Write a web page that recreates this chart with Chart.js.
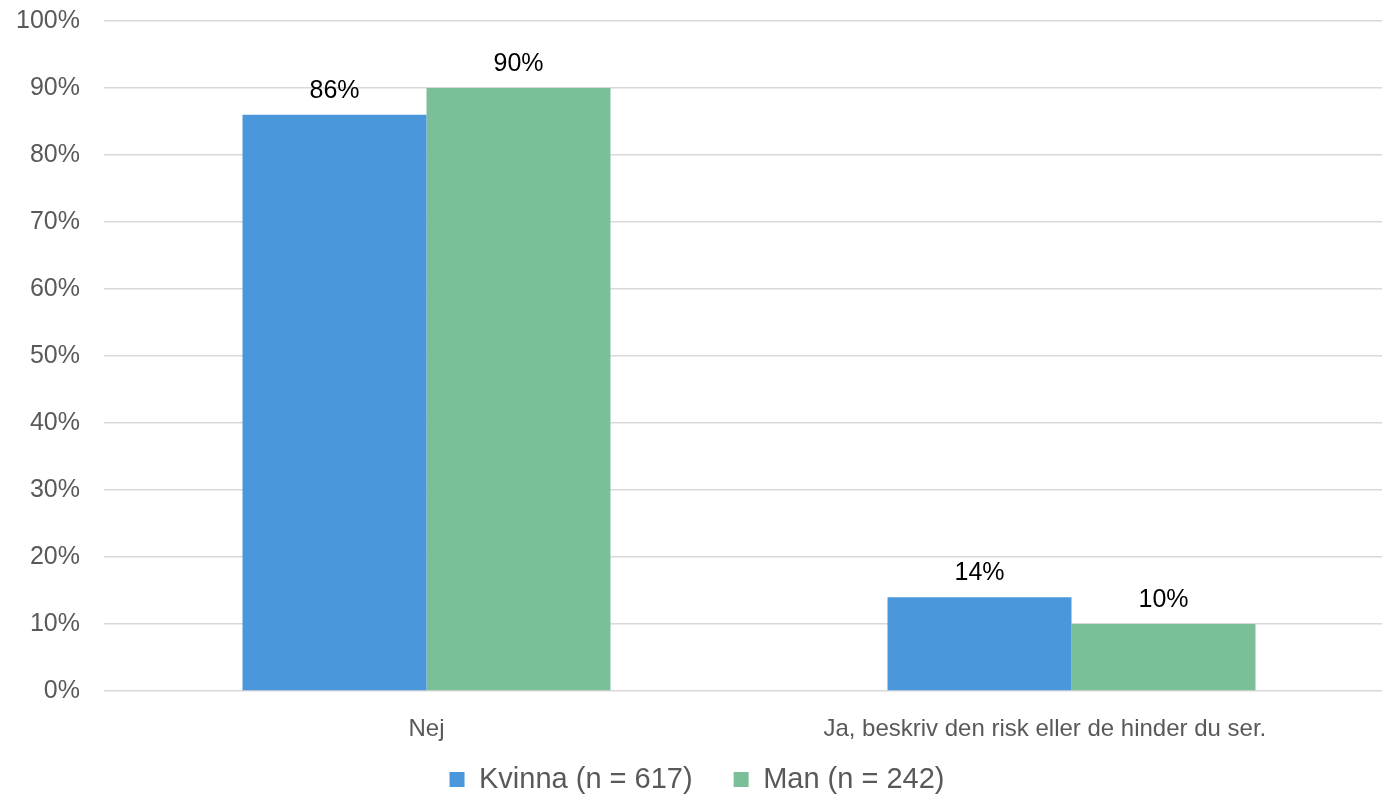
<!DOCTYPE html>
<html>
<head>
<meta charset="utf-8">
<script src="https://cdn.jsdelivr.net/npm/chart.js@4/dist/chart.umd.min.js"></script>
<style>
  html, body { margin: 0; padding: 0; background: #fff; overflow: hidden; }
  #wrap { width: 1394px; height: 797px; position: relative; }
</style>
</head>
<body>
<div id="wrap"><canvas id="c"></canvas></div>
<script>
const categories = ["Nej", "Ja, beskriv den risk eller de hinder du ser."];
const seriesNames = ["Kvinna (n = 617)", "Man (n = 242)"];
const kvinna = [86, 14];
const man = [90, 10];
const yTicks = [0, 10, 20, 30, 40, 50, 60, 70, 80, 90, 100];

const FONT = "'Liberation Sans', Arial, sans-serif";

const dataLabels = {
  id: 'dataLabels',
  beforeUpdate(chart) {
    const lg = chart.legend;
    if (lg && !lg._patched) {
      const orig = lg.fit.bind(lg);
      lg.fit = function () { orig(); this.height = 49; };
      lg._patched = true;
    }
  },
  afterLayout(chart) {
    if (chart.legend) {
      chart.legend.top = 724;
      chart.legend.bottom = 797;
    }
  },
  afterDatasetsDraw(chart) {
    const ctx = chart.ctx;
    ctx.save();
    ctx.font = "25px " + FONT;
    ctx.fillStyle = "#000";
    ctx.textAlign = "center";
    ctx.textBaseline = "alphabetic";
    chart.data.datasets.forEach((ds, i) => {
      const meta = chart.getDatasetMeta(i);
      meta.data.forEach((bar, j) => {
        ctx.fillText(ds.data[j] + "%", bar.x, bar.y - 17);
      });
    });
    ctx.restore();
  }
};

new Chart(document.getElementById('c'), {
  type: 'bar',
  data: {
    labels: categories,
    datasets: [
      { label: seriesNames[0], data: kvinna, backgroundColor: '#4A98DB', borderWidth: 0 },
      { label: seriesNames[1], data: man, backgroundColor: '#7BBF99', borderWidth: 0 }
    ]
  },
  options: {
    responsive: true,
    maintainAspectRatio: false,
    animation: false,
    events: [],
    categoryPercentage: 0.5705,
    barPercentage: 1,
    layout: { padding: { top: 21, left: 0, right: 0, bottom: 0 } },
    plugins: {
      tooltip: { enabled: false },
      legend: {
        position: 'bottom',
        labels: {
          font: { family: FONT, size: 29 },
          color: '#595959',
          boxWidth: 15,
          boxHeight: 15,
          padding: 41,
          useBorderRadius: false
        }
      }
    },
    scales: {
      x: {
        grid: { display: false },
        border: { display: false },
        ticks: {
          font: { family: FONT, size: 24 },
          color: '#595959',
          padding: 16,
          maxRotation: 0,
          callback: function (v, i) {
            const t = this.getLabelForValue(v);
            return i === categories.length - 1 ? t + '\u00A0'.repeat(8) : t;
          }
        },
        afterFit(scale) { scale.height = 57; scale.paddingLeft = 0; scale.paddingRight = 0; }
      },
      y: {
        min: 0,
        max: 100,
        afterBuildTicks(scale) { scale.ticks = yTicks.map(v => ({ value: v })); },
        grid: { color: '#D9D9D9', lineWidth: 1.5, drawTicks: false },
        border: { display: false },
        ticks: {
          font: { family: FONT, size: 25 },
          color: '#595959',
          padding: 24,
          callback: v => v + '%'
        },
        afterFit(scale) { scale.width = 104; scale.paddingTop = 0; scale.paddingBottom = 0; }
      }
    }
  },
  plugins: [dataLabels]
});
</script>
</body>
</html>
